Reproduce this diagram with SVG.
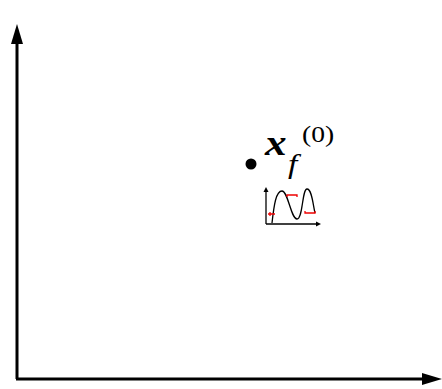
<svg xmlns="http://www.w3.org/2000/svg" width="442" height="389" viewBox="0 0 442 389">
<defs>
<style>
.ax{stroke:#000;stroke-width:3;fill:none}
.sm{stroke:#000;stroke-width:1.3;fill:none}
.rd{stroke:#e00;stroke-width:1.3;fill:none}
text{font-family:'Liberation Serif','Times New Roman',serif;fill:#000}
</style>
</defs>
<g id="connectors">
<line class="ax" x1="17" y1="379" x2="17" y2="42"/>
<polygon points="17,24 11,44 23,44" fill="#000"/>
<line class="ax" x1="16" y1="379" x2="424" y2="379"/>
<polygon points="442,379 422,373 422,385" fill="#000"/>
</g>
<g id="point">
<circle cx="251" cy="164" r="5.5" fill="#000"/>
<text transform="translate(265,155) scale(1.2,1)" font-size="36" font-weight="bold" font-style="italic">x</text>
<text transform="translate(288,173) scale(1.2,1)" font-size="28" font-style="italic">f</text>
<text transform="translate(302,142) scale(1.15,1)" font-size="24">(0)</text>
</g>
<g id="chart">
<line class="sm" x1="266" y1="224" x2="318" y2="224"/>
<polygon points="321,224 316,221.5 316,226.5" fill="#000"/>
<line class="sm" x1="266" y1="224" x2="266" y2="190"/>
<polygon points="266,187 263.5,192 268.5,192" fill="#000"/>
<path class="sm" d="M272,223 C274,205 276,191 282,191 C288,191 291,219 297,219 C303,219 302,189 307,189 C312,189 313,205 315,213"/>
<path class="rd" d="M268,214 H275 M270,212 V216"/>
<path class="rd" d="M287,197 V195 H297 V197"/>
<path class="rd" d="M305,211 V213 H315 V211"/>
</g>
</svg>
